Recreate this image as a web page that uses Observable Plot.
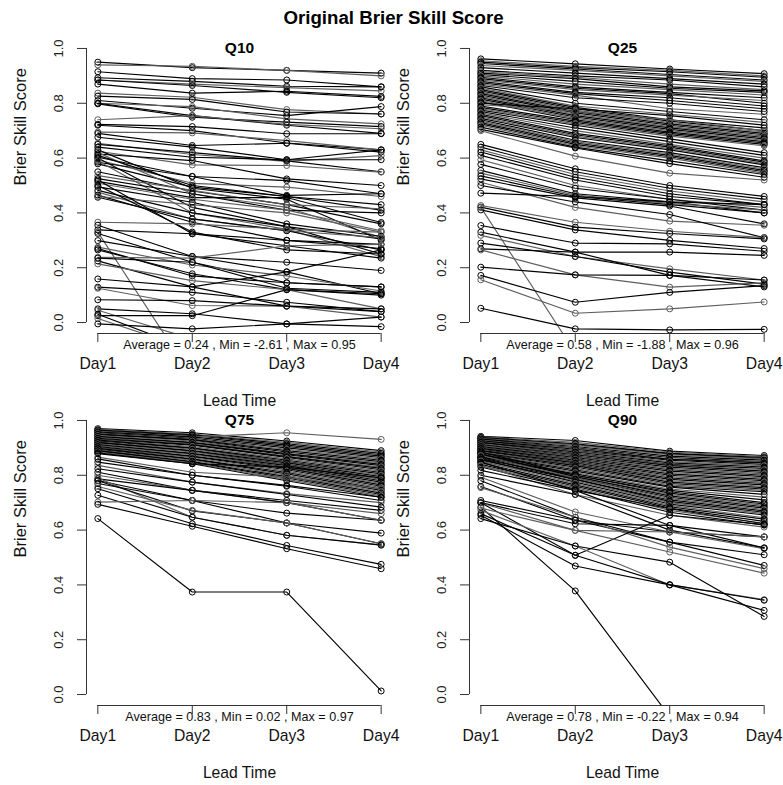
<!DOCTYPE html>
<html><head><meta charset="utf-8">
<script src="https://cdn.jsdelivr.net/npm/d3@7"></script>
<script src="https://cdn.jsdelivr.net/npm/@observablehq/plot@0.6"></script>
<style>
body{margin:0;background:#fff;}
#wrap{position:relative;width:783px;height:785px;overflow:hidden;font-family:"Liberation Sans",Arial,sans-serif;background:#fff;}
#title{position:absolute;left:2px;width:783px;top:7px;line-height:22px;text-align:center;font-weight:bold;font-size:18.7px;color:#000;}
</style></head><body>
<div id="wrap"><div id="title">Original Brier Skill Score</div></div>
<script>
const days = ["Day1","Day2","Day3","Day4"];
const yTicks = [0, 0.2, 0.4, 0.6, 0.8, 1.0];
const panelTitles = ["Q10","Q25","Q75","Q90"];
const avgs = [0.24, 0.58, 0.83, 0.78];
const mins = [-2.61, -1.88, 0.02, -0.22];
const maxs = [0.95, 0.96, 0.97, 0.94];

const q10 = [
[0.95,0.93,0.92,0.91],[0.94,0.935,0.92,0.90],[0.915,0.89,0.885,0.86],[0.893,0.88,0.862,0.86],
[0.885,0.87,0.857,0.845],[0.87,0.837,0.844,0.825],[0.885,0.865,0.84,0.82],[0.837,0.822,0.777,0.761],
[0.826,0.814,0.768,0.761],[0.81,0.782,0.755,0.788],[0.80,0.788,0.743,0.725],[0.798,0.749,0.731,0.715],
[0.80,0.755,0.72,0.69],[0.74,0.755,0.723,0.707],[0.723,0.715,0.689,0.689],[0.72,0.70,0.655,0.63],
[0.695,0.692,0.664,0.63],[0.69,0.646,0.654,0.622],[0.676,0.64,0.594,0.63],[0.654,0.613,0.588,0.609],
[0.65,0.62,0.59,0.55],[0.64,0.603,0.594,0.594],[0.625,0.575,0.573,0.549],[0.615,0.591,0.524,0.50],
[0.603,0.533,0.518,0.47],[0.593,0.508,0.494,0.46],[0.585,0.533,0.464,0.47],[0.579,0.494,0.46,0.43],
[0.62,0.47,0.42,0.31],[0.60,0.42,0.35,0.25],[0.63,0.49,0.45,0.30],[0.59,0.40,0.34,0.24],
[0.61,0.50,0.46,0.41],[0.55,0.48,0.43,0.36],[0.536,0.482,0.43,0.415],[0.525,0.47,0.41,0.40],
[0.515,0.456,0.456,0.365],[0.508,0.45,0.41,0.335],[0.495,0.439,0.36,0.315],[0.482,0.40,0.35,0.305],
[0.476,0.378,0.335,0.31],[0.465,0.366,0.30,0.285],[0.457,0.378,0.335,0.265],[0.46,0.43,0.40,0.33],
[0.52,0.324,0.28,0.235],[0.50,0.33,0.265,0.25],[0.366,0.36,0.34,0.33],[0.355,0.241,0.22,0.19],
[0.338,0.324,0.30,0.27],[0.33,-0.2,-0.35,-0.3],[0.325,0.22,0.145,0.13],[0.299,0.241,0.185,0.105],
[0.275,0.21,0.17,0.115],[0.27,0.17,0.145,0.13],[0.265,0.178,0.12,0.10],[0.238,0.235,0.28,0.285],
[0.235,0.22,0.125,0.11],[0.225,0.13,0.06,0.04],[0.214,0.153,0.12,0.05],[0.159,0.13,0.185,0.265],
[0.129,0.11,0.074,0.04],[0.125,0.062,0.06,0.02],[0.083,0.08,0.06,0.05],[0.05,0.032,-0.005,0.02],
[0.045,-0.06,-0.2,-0.1],[0.03,-0.10,-2.61,-1.2],[0.025,0.025,0.12,0.105],[0.015,-0.10,-0.3,-0.2],
[-0.005,-0.023,-0.005,-0.015]
];

const q25 = [
[0.962,0.944,0.925,0.908],[0.955,0.935,0.92,0.90],[0.95,0.93,0.915,0.895],[0.945,0.925,0.905,0.885],
[0.938,0.92,0.90,0.88],[0.93,0.91,0.89,0.87],[0.92,0.90,0.885,0.86],[0.915,0.895,0.87,0.85],
[0.91,0.89,0.86,0.845],[0.905,0.88,0.855,0.84],[0.90,0.87,0.85,0.83],[0.895,0.86,0.84,0.82],
[0.89,0.855,0.835,0.80],[0.885,0.85,0.83,0.81],[0.88,0.84,0.82,0.79],[0.875,0.835,0.81,0.78],
[0.87,0.83,0.78,0.76],[0.865,0.82,0.80,0.77],[0.86,0.80,0.77,0.74],[0.855,0.79,0.76,0.73],
[0.85,0.785,0.74,0.71],[0.845,0.78,0.735,0.70],[0.84,0.775,0.73,0.695],[0.835,0.77,0.725,0.69],
[0.83,0.765,0.72,0.685],[0.825,0.76,0.715,0.68],[0.82,0.755,0.71,0.675],[0.815,0.75,0.705,0.67],
[0.81,0.745,0.70,0.665],[0.805,0.74,0.695,0.66],[0.80,0.78,0.755,0.72],[0.795,0.77,0.74,0.70],
[0.79,0.735,0.69,0.655],[0.785,0.73,0.685,0.65],[0.78,0.725,0.68,0.645],[0.775,0.72,0.67,0.62],
[0.77,0.71,0.66,0.61],[0.765,0.70,0.65,0.60],[0.76,0.69,0.645,0.59],[0.755,0.685,0.64,0.585],
[0.75,0.68,0.635,0.58],[0.745,0.675,0.63,0.575],[0.74,0.665,0.62,0.565],[0.735,0.66,0.615,0.56],
[0.73,0.655,0.61,0.555],[0.725,0.65,0.605,0.55],[0.72,0.645,0.60,0.545],[0.713,0.64,0.59,0.54],
[0.705,0.637,0.58,0.53],[0.70,0.607,0.545,0.52],
[0.65,0.561,0.50,0.46],[0.64,0.55,0.49,0.45],[0.63,0.54,0.48,0.44],[0.622,0.53,0.47,0.43],
[0.61,0.52,0.46,0.43],[0.594,0.50,0.45,0.42],[0.577,0.49,0.45,0.41],[0.555,0.47,0.44,0.40],
[0.545,0.465,0.435,0.41],[0.535,0.46,0.43,0.40],[0.524,0.455,0.425,0.36],[0.512,0.42,0.37,0.355],
[0.50,0.44,0.394,0.31],[0.472,0.46,0.44,0.43],[0.427,0.366,0.333,0.31],[0.421,0.348,0.325,0.305],
[0.411,0.338,0.30,0.27],[0.42,-0.11,-1.88,-1.5],[0.354,0.29,0.287,0.26],[0.33,0.257,0.257,0.245],
[0.318,0.241,0.196,0.155],[0.29,0.241,0.184,0.14],[0.269,0.257,0.172,0.13],[0.265,0.174,0.129,0.145],
[0.202,0.174,0.172,0.155],[0.172,0.074,0.11,0.135],[0.156,0.034,0.05,0.075],[0.052,-0.023,-0.027,-0.025]
];

const q75 = [
[0.97,0.955,0.925,0.89],[0.968,0.95,0.92,0.885],[0.965,0.948,0.915,0.88],[0.962,0.945,0.91,0.875],
[0.96,0.94,0.955,0.931],[0.958,0.94,0.905,0.87],[0.955,0.935,0.90,0.865],[0.952,0.932,0.895,0.86],
[0.95,0.93,0.89,0.855],[0.948,0.928,0.885,0.85],[0.945,0.925,0.88,0.845],[0.942,0.92,0.878,0.84],
[0.94,0.918,0.875,0.835],[0.938,0.915,0.87,0.83],[0.935,0.912,0.868,0.825],[0.932,0.91,0.865,0.82],
[0.93,0.905,0.86,0.815],[0.928,0.90,0.855,0.81],[0.925,0.898,0.85,0.805],[0.922,0.895,0.848,0.80],
[0.92,0.89,0.845,0.795],[0.918,0.888,0.84,0.79],[0.915,0.885,0.838,0.785],[0.912,0.88,0.835,0.78],
[0.91,0.878,0.83,0.775],[0.908,0.875,0.828,0.77],[0.905,0.87,0.825,0.765],[0.902,0.868,0.82,0.76],
[0.90,0.865,0.815,0.755],[0.898,0.86,0.81,0.75],[0.895,0.858,0.805,0.745],[0.892,0.855,0.80,0.74],
[0.89,0.85,0.795,0.735],[0.888,0.848,0.79,0.73],[0.885,0.845,0.785,0.725],[0.882,0.842,0.78,0.72],
[0.879,0.842,0.83,0.79],[0.866,0.811,0.793,0.75],[0.86,0.80,0.763,0.72],[0.848,0.80,0.76,0.708],
[0.836,0.775,0.733,0.70],[0.824,0.775,0.73,0.684],[0.811,0.745,0.708,0.672],[0.80,0.745,0.70,0.66],
[0.787,0.745,0.70,0.636],[0.781,0.708,0.662,0.636],[0.79,0.647,0.581,0.546],[0.78,0.67,0.626,0.55],
[0.77,0.708,0.626,0.589],[0.759,0.672,0.626,0.55],[0.751,0.647,0.581,0.545],[0.727,0.623,0.544,0.475],
[0.702,0.708,0.70,0.636],[0.694,0.614,0.532,0.459],[0.642,0.374,0.374,0.013]
];

const q90 = [
[0.942,0.927,0.888,0.872],[0.94,0.92,0.885,0.868],[0.938,0.915,0.88,0.865],[0.936,0.912,0.878,0.862],
[0.934,0.91,0.875,0.86],[0.932,0.905,0.87,0.855],[0.93,0.90,0.865,0.85],[0.928,0.898,0.86,0.848],
[0.926,0.895,0.858,0.845],[0.924,0.89,0.855,0.84],[0.922,0.888,0.85,0.835],[0.92,0.885,0.845,0.83],
[0.918,0.88,0.84,0.825],[0.915,0.878,0.838,0.82],[0.912,0.875,0.835,0.815],[0.91,0.87,0.83,0.81],
[0.908,0.868,0.825,0.805],[0.905,0.865,0.82,0.80],[0.902,0.86,0.815,0.795],[0.90,0.858,0.81,0.79],
[0.898,0.855,0.805,0.785],[0.895,0.85,0.80,0.78],[0.892,0.848,0.795,0.775],[0.89,0.845,0.79,0.77],
[0.888,0.84,0.785,0.765],[0.885,0.838,0.78,0.76],[0.882,0.835,0.775,0.755],[0.88,0.83,0.77,0.75],
[0.878,0.825,0.765,0.745],[0.875,0.82,0.76,0.74],[0.872,0.815,0.757,0.73],[0.87,0.81,0.75,0.72],
[0.868,0.805,0.745,0.71],[0.866,0.80,0.74,0.70],[0.862,0.795,0.73,0.69],[0.86,0.79,0.72,0.68],
[0.855,0.785,0.71,0.67],[0.85,0.78,0.70,0.66],[0.885,0.80,0.735,0.695],[0.878,0.795,0.725,0.685],
[0.872,0.79,0.715,0.675],[0.865,0.785,0.705,0.665],[0.858,0.775,0.695,0.655],[0.852,0.77,0.69,0.645],
[0.846,0.765,0.685,0.64],[0.84,0.76,0.68,0.632],[0.835,0.755,0.672,0.625],[0.83,0.75,0.665,0.618],
[0.848,0.745,0.678,0.623],[0.836,0.73,0.654,0.611],
[0.818,0.745,0.617,0.575],[0.80,0.73,0.60,0.535],[0.793,0.666,0.593,0.532],[0.78,0.647,0.556,0.51],
[0.759,0.636,0.556,0.471],[0.755,0.647,0.538,0.459],[0.708,0.636,0.593,0.575],[0.70,0.623,0.617,0.535],
[0.699,0.599,0.593,0.575],[0.70,0.508,0.654,0.62],[0.684,0.378,-0.08,-0.22],[0.672,0.542,0.40,0.346],
[0.654,0.469,0.40,0.307],[0.642,0.542,0.483,0.285],[0.68,0.599,0.52,0.443],[0.66,0.508,0.401,0.344]
];

const FONT = '"Liberation Sans", Arial, sans-serif';
const AX = "#333";
const GRAY = "#5e5e5e";

function panel(lines, title, summary, left, top) {
  const rows = [];
  lines.forEach((vals, id) => vals.forEach((v, j) =>
    rows.push({id, day: j + 1, value: v, col: id % 3 === 1 ? GRAY : "#000000"})));
  const fig = Plot.plot({
    width: 400, height: 413,
    marginLeft: 86, marginRight: 8, marginTop: 37, marginBottom: 80,
    x: {type: "linear", domain: [0.88, 4.12]},
    y: {type: "linear", domain: [-0.04, 1.04]},
    color: {type: "identity"},
    style: {fontFamily: FONT, background: "transparent", overflow: "visible", color: "#000"},
    marks: [
      Plot.line(rows, {x: "day", y: "value", z: "id", stroke: "col", strokeWidth: 1.15, clip: true}),
      Plot.dot(rows, {x: "day", y: "value", r: 3, stroke: "col", fill: "none", strokeWidth: 1, clip: true}),
      Plot.ruleX([0.88], {y1: 0, y2: 1, stroke: AX}),
      Plot.axisY({ticks: yTicks, tickSize: 9, tickFormat: () => "", anchor: "left", label: null, stroke: AX}),
      Plot.text(yTicks, {x: () => 0.88, y: d => d, text: d => d.toFixed(1), rotate: -90, dx: -28,
        fontSize: 13, textAnchor: "middle", lineAnchor: "middle", fill: "#222"}),
      Plot.ruleY([-0.04], {x1: 1, x2: 4, stroke: AX}),
      Plot.axisX({ticks: [1, 2, 3, 4], tickSize: 9, tickFormat: () => "", anchor: "bottom", label: null, stroke: AX}),
      Plot.text(days, {x: (d, i) => i + 1, text: d => d, frameAnchor: "bottom", dy: 24, lineAnchor: "top", fontSize: 15.7, fill: "#111"}),
      Plot.text([summary], {x: () => 2.5, text: d => d, frameAnchor: "bottom", dy: 11, lineAnchor: "middle", fontSize: 12.6, fill: "#111"}),
      Plot.text(["Lead Time"], {x: () => 2.5, text: d => d, frameAnchor: "bottom", dy: 67, lineAnchor: "middle", fontSize: 15.7, fill: "#111"}),
      Plot.text(["Brier Skill Score"], {y: () => 0.5, text: d => d, frameAnchor: "left", dx: -66, rotate: -90, lineAnchor: "middle", fontSize: 16.5, fill: "#111"}),
      Plot.text([title], {x: () => 2.5, text: d => d, frameAnchor: "top", dy: 11, lineAnchor: "middle", fontSize: 15.5, fontWeight: "bold", fill: "#000"})
    ]
  });
  fig.style.position = "absolute";
  fig.style.left = left + "px";
  fig.style.top = top + "px";
  document.getElementById("wrap").appendChild(fig);
}

const datasets = [q10, q25, q75, q90];
const lefts = [0, 383.3, 0, 383.3];
const tops = [0, 0, 372, 372];
datasets.forEach((lines, k) => {
  const s = `Average = ${avgs[k].toFixed(2)} , Min = ${mins[k].toFixed(2)} , Max = ${maxs[k].toFixed(2)}`;
  panel(lines, panelTitles[k], s, lefts[k], tops[k]);
});
</script>
</body></html>
